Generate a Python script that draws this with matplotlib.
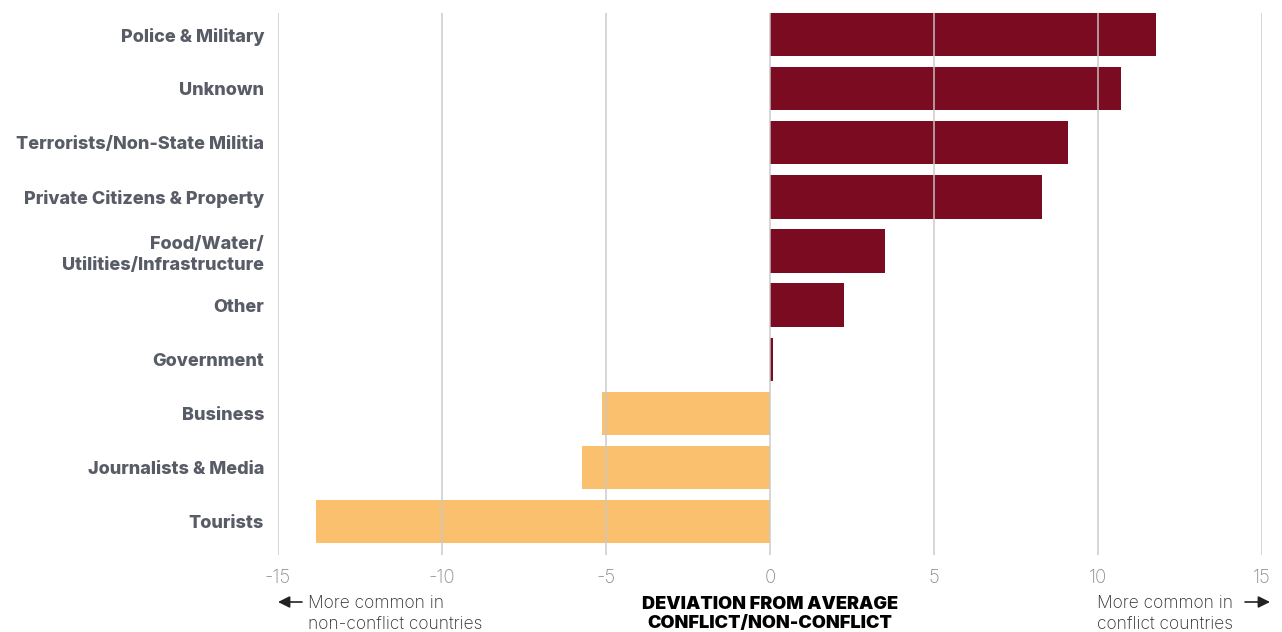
import matplotlib
matplotlib.use("Agg")
import matplotlib.pyplot as plt

categories = ["Police & Military", "Unknown", "Terrorists/Non-State Militia",
              "Private Citizens & Property", "Food/Water/\nUtilities/Infrastructure",
              "Other", "Government", "Business", "Journalists & Media", "Tourists"]
values = [11.78, 10.7, 9.09, 8.3, 3.51, 2.26, 0.1, -5.12, -5.73, -13.85]
xticks = [-15, -10, -5, 0, 5, 10, 15]

RED = "#7a0b20"
ORANGE = "#fbc06d"

fig = plt.figure(figsize=(12.82, 6.32), dpi=100)
ax = fig.add_axes([278/1282, 1-555/632, (1262-278)/1282, (555-13)/632])

ypos = list(range(len(categories)))
colors = [RED if v >= 0 else ORANGE for v in values]
ax.barh(ypos, values, height=0.8, color=colors, zorder=2)

ax.set_xlim(-15, 15)
ax.set_ylim(9.62, -0.4)
ax.set_xticks(xticks)
ax.set_xticklabels([str(t) for t in xticks], fontsize=13.5, color="#8c8c8c", family="Inter", fontweight="light")
ax.tick_params(axis="x", length=0, pad=10)
ax.set_yticks(ypos)
ax.set_yticklabels(categories, fontsize=13, fontweight="heavy", color="#585c66", family="Inter", linespacing=1.3)
ax.tick_params(axis="y", length=0, pad=10)

for s in ax.spines.values():
    s.set_visible(False)
for t in xticks:
    ax.axvline(t, color="#c8c8c8", lw=1.3, zorder=3, alpha=0.8)

fig.text(770/1282, 1-614/632, "DEVIATION FROM AVERAGE\nCONFLICT/NON-CONFLICT", ha="center", va="center",
         fontsize=13, fontweight="black", color="#000000", family="Inter", linespacing=1.2)
fig.text(308/1282, 1-614/632, "More common in\nnon-conflict countries", ha="left", va="center",
         fontsize=12.5, color="#2a2a2a", family="Inter", fontweight="light", linespacing=1.3)
fig.text(1097/1282, 1-614/632, "More common in\nconflict countries", ha="left", va="center",
         fontsize=12.5, color="#2a2a2a", family="Inter", fontweight="light", linespacing=1.3)
fig.add_artist(matplotlib.patches.FancyArrowPatch((302/1282, 1-602/632), (278/1282, 1-602/632),
               transform=fig.transFigure, arrowstyle="-|>,head_length=0.7,head_width=0.35",
               mutation_scale=10, color="#222222", lw=1.2, shrinkA=0, shrinkB=0))
fig.add_artist(matplotlib.patches.FancyArrowPatch((1245/1282, 1-602/632), (1270/1282, 1-602/632),
               transform=fig.transFigure, arrowstyle="-|>,head_length=0.7,head_width=0.35",
               mutation_scale=10, color="#222222", lw=1.2, shrinkA=0, shrinkB=0))

fig.savefig("out.png", dpi=100)
